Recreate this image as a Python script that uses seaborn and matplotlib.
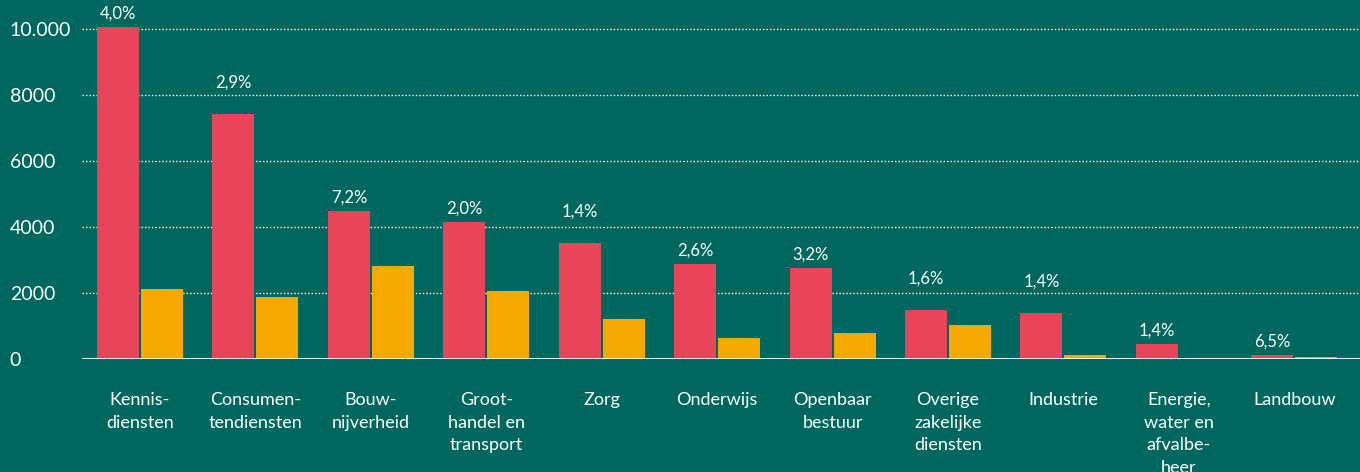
import pandas as pd
import seaborn as sns
import matplotlib.pyplot as plt

# Sectors and values
sectors = ['Kennis-\ndiensten', 'Consumen-\ntendiensten', 'Bouw-\nnijverheid',
           'Groot-\nhandel en\ntransport', 'Zorg', 'Onderwijs', 'Openbaar\nbestuur',
           'Overige\nzakelijke\ndiensten', 'Industrie', 'Energie,\nwater en\nafvalbe-\nheer',
           'Landbouw']
red_values = [10050, 7420, 4480, 4150, 3520, 2880, 2760, 1490, 1390, 460, 120]
orange_values = [2120, 1880, 2820, 2060, 1210, 640, 790, 1030, 120, 0, 60]
pct_labels = ['4,0%', '2,9%', '7,2%', '2,0%', '1,4%', '2,6%', '3,2%',
              '1,6%', '1,4%', '1,4%', '6,5%']
# some labels sit higher above their bar in the original
label_raise = [0, 1, 0, 0, 1, 0, 0, 1, 1, 0, 0]

bg = '#00675F'
red = '#E8445A'
orange = '#F5A800'

df = pd.DataFrame({
    'sector': sectors * 2,
    'value': red_values + orange_values,
    'serie': ['a'] * len(sectors) + ['b'] * len(sectors),
})

sns.set_style('white')
plt.rcParams['font.family'] = ['Lato', 'DejaVu Sans']

fig = plt.figure(figsize=(13.6, 4.72), dpi=100, facecolor=bg)
ax = fig.add_axes([0.0603, 0.2394, 0.9397, 0.7606])
ax.set_facecolor(bg)

sns.barplot(data=df, x='sector', y='value', hue='serie', palette=[red, orange],
            width=0.763, gap=0.046, saturation=1, legend=False, linewidth=0, ax=ax)

ax.set_xlim(-0.503, 10.57)
ax.set_ylim(0, 10880)
ax.set_yticks([0, 2000, 4000, 6000, 8000, 10000])
ax.set_yticklabels(['0', '2000', '4000', '6000', '8000', '10.000'])

for y in [2000, 4000, 6000, 8000, 10000]:
    ax.axhline(y, color='white', lw=1, ls=(0, (1, 1.5)), zorder=0)
ax.axhline(0, color='white', lw=2, zorder=3)

red_bars = ax.patches[:len(sectors)]
for bar, txt, up in zip(red_bars, pct_labels, label_raise):
    ax.annotate(txt, (bar.get_x() + bar.get_width() / 2, bar.get_height()),
                xytext=(0, 4 + up * 13), textcoords='offset points',
                ha='center', va='bottom', color='white', fontsize=12)

ax.set_xlabel('')
ax.set_ylabel('')
for s in ax.spines.values():
    s.set_visible(False)
ax.tick_params(axis='both', length=0, colors='white')
ax.tick_params(axis='y', labelsize=14, pad=52)
for lab in ax.get_yticklabels():
    lab.set_horizontalalignment('left')
ax.tick_params(axis='x', labelsize=13, pad=24)
for lab in ax.get_xticklabels():
    lab.set_verticalalignment('top')
    lab.set_linespacing(1.5)

fig.savefig('out.png', dpi=100, facecolor=bg)
